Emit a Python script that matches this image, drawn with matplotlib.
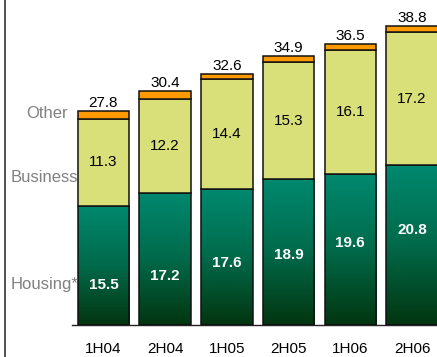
import numpy as np
import matplotlib
matplotlib.use("Agg")
import matplotlib.pyplot as plt
from matplotlib.colors import LinearSegmentedColormap
from matplotlib.lines import Line2D

categories = ["1H04", "2H04", "1H05", "2H05", "1H06", "2H06"]
housing = [15.5, 17.2, 17.6, 18.9, 19.6, 20.8]
business = [11.3, 12.2, 14.4, 15.3, 16.1, 17.2]
other = [1.0, 1.0, 0.6, 0.7, 0.8, 0.8]
totals = [27.8, 30.4, 32.6, 34.9, 36.5, 38.8]
housing_label_y = [5.2, 6.4, 8.1, 9.1, 10.6, 12.3]

plt.rcParams['font.family'] = ['Liberation Sans', 'DejaVu Sans']

W, H = 437, 357
fig = plt.figure(figsize=(W / 100, H / 100), dpi=100)
ax = fig.add_axes([72 / W, 32 / H, 1 - 72 / W, 1 - 32 / H])
ax.patch.set_alpha(0)

x = np.arange(len(categories))
bw = 0.833
XL = (-0.51, 5.405)
ax.set_xlim(*XL)
ax.set_ylim(0, 42.2)

cmap = LinearSegmentedColormap.from_list(
    "g", [(0.0, "#033510"), (0.5, "#006A4A"), (1.0, "#00896F")])
grad = np.linspace(0, 1, 256).reshape(-1, 1)

ec = "#111111"
lw = 1.1
for i in range(len(categories)):
    l, r = x[i] - bw / 2, x[i] + bw / 2
    ax.imshow(grad, cmap=cmap, origin="lower", aspect="auto",
              extent=[l, r, 0, housing[i]], zorder=2, interpolation="bicubic")
ax.bar(x, housing, width=bw, fill=False, edgecolor=ec, linewidth=lw, zorder=3)
ax.bar(x, business, bottom=housing, width=bw, color="#D9E07A",
       edgecolor=ec, linewidth=lw, zorder=3)
bot2 = [h + b for h, b in zip(housing, business)]
ax.bar(x, other, bottom=bot2, width=bw, color="#FF9900",
       edgecolor=ec, linewidth=lw, zorder=3)
ax.set_xlim(*XL)
ax.set_ylim(0, 42.2)

for i in range(len(categories)):
    ax.text(x[i], housing_label_y[i], f"{housing[i]:.1f}", ha="center",
            va="center", color="white", fontsize=11, fontweight="bold", zorder=5)
    ax.text(x[i], housing[i] + business[i] / 2, f"{business[i]:.1f}",
            ha="center", va="center", color="black", fontsize=11, zorder=5)
    ax.annotate(f"{totals[i]:.1f}", (x[i], totals[i]), xytext=(0, 8),
                textcoords="offset pixels", ha="center", va="center",
                fontsize=11, color="black", zorder=5, annotation_clip=False)

for s in ["top", "right", "left"]:
    ax.spines[s].set_visible(False)
ax.spines["bottom"].set_color("#222222")
ax.spines["bottom"].set_linewidth(1.0)
ax.spines["bottom"].set_zorder(1)
ax.set_yticks([])
ax.set_xticks(x)
ax.set_xticklabels(categories, fontsize=11)
ax.tick_params(axis="x", length=0, pad=12)

gray = "#808080"
fig.text(68 / W, 1 - 114 / H, "Other", ha="right", va="center", color=gray, fontsize=12)
fig.text(78 / W, 1 - 177 / H, "Business", ha="right", va="center", color=gray, fontsize=12, zorder=0)
fig.text(78 / W, 1 - 284 / H, "Housing*", ha="right", va="center", color=gray, fontsize=12, zorder=0)

fig.add_artist(Line2D([4.5 / W, 4.5 / W], [0, 1], transform=fig.transFigure,
                      color="#333333", linewidth=1.2))

fig.savefig("out.png", dpi=100)
